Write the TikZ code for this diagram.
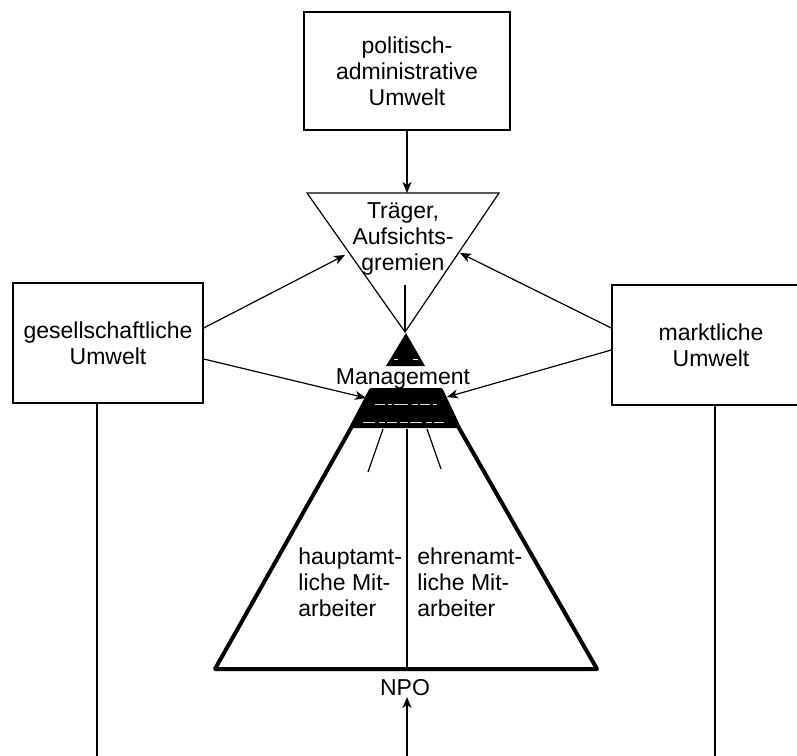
\documentclass[tikz,border=0pt]{standalone}
\usepackage{fontspec}
\setmainfont{Liberation Sans}
\usetikzlibrary{arrows.meta,calc}
\begin{document}
\begin{tikzpicture}[x=0.5pt,y=-0.5pt,
  lbl/.style={font=\fontsize{11.5}{13}\selectfont, align=center, inner sep=0pt},
  envbox/.style={draw, line width=0.7pt, lbl},
  conn/.style={line width=0.6pt, -{Stealth[length=5.5pt,width=4.5pt,inset=1.5pt]}},
  thinline/.style={line width=0.6pt},
  heavy/.style={line width=2pt, line join=round}]
\clip (0,0) rectangle (797,755);
\fill[white] (0,0) rectangle (797,755);

% the three environments
\node[envbox, minimum width=103pt, minimum height=59pt] (pol) at (407,71) {politisch-\\administrative\\Umwelt};
\node[envbox, minimum width=95pt, minimum height=60pt] (ges) at (108,343) {gesellschaftliche\\Umwelt};
\node[envbox, minimum width=99pt, minimum height=60pt] (mkt) at (711,345) {marktliche\\Umwelt};

% supervisory triangle
\coordinate (tl) at (307,193);
\coordinate (tr) at (499,193);
\coordinate (ta) at (405,332);
\draw[thinline, line join=miter] (tl) -- (tr) -- (ta) -- cycle;
\node[lbl] (trg) at (403,239) {Träger,\\Aufsichts-\\gremien};
\coordinate (tc) at (405,285);
\draw[thinline] (tc) -- (ta);

% management peak
\fill (406,333) -- (425,366) -- (386,366) -- cycle;
\draw[white, line width=0.5pt] (394,359) -- (398,359) (413,359) -- (418,359);
\node[lbl] (mgmt) at (403,379) {Management};

% organisation body
\coordinate (bl) at (215,669);
\coordinate (br) at (597,669);
\coordinate (ul) at (371,390);
\coordinate (ur) at (441,390);
\coordinate (ml) at (351,428);
\coordinate (mr) at (459,428);
\fill (ul) -- (ur) -- (mr) -- (ml) -- cycle;
\draw[heavy] (ml) -- (ul) -- (ur) -- (mr) -- (br) -- (bl) -- cycle;
\draw[white!85!black, line width=0.5pt, dash pattern=on 5pt off 1.5pt on 2pt off 1pt on 7pt off 2pt on 3pt off 1pt]
  (375,404) -- (438,404);
\draw[white!85!black, line width=0.5pt, dash pattern=on 6pt off 2pt on 3pt off 1pt on 5pt off 1.5pt on 4pt off 1pt]
  (363,422) -- (447,422);

% lines fanning out below the management band
\coordinate (f1a) at (383,429);
\coordinate (f1b) at (368,472);
\coordinate (f3a) at (427,429);
\coordinate (f3b) at (441,469);
\coordinate (cTop) at (407,429);
\coordinate (cBot) at (407,669);
\draw[thinline] (f1a) -- (f1b) (f3a) -- (f3b);
\draw[thinline] (cTop) -- (cBot);

\node[lbl, align=left, anchor=west] (haupt) at (298,582) {hauptamt-\\liche Mit-\\arbeiter};
\node[lbl, align=left, anchor=west] (ehren) at (417,582) {ehrenamt-\\liche Mit-\\arbeiter};
\node[lbl] (npo) at (405,688) {NPO};

% influences
\coordinate (aL) at (345,255);
\coordinate (aR) at (460,253);
\coordinate (bL) at (366,398);
\coordinate (bR) at (447,397);
\draw[conn] (pol.south) -- (pol.south |- tl);
\draw[conn] ([yshift=7.5pt]ges.east) -- (aL);
\draw[conn] ([yshift=-8pt]ges.east) -- (bL);
\draw[conn] ([yshift=8.5pt]mkt.west) -- (aR);
\draw[conn] ([yshift=-2.5pt]mkt.west) -- (bR);

% lines leaving the picture
\coordinate (gEnd) at (97,760);
\coordinate (mEnd) at (715,760);
\coordinate (nEnd) at (407,760);
\draw[thinline] (ges.south -| gEnd) -- (gEnd);
\draw[thinline] (mkt.south -| mEnd) -- (mEnd);
\draw[conn] (nEnd) -- (407,697);
\end{tikzpicture}
\end{document}
